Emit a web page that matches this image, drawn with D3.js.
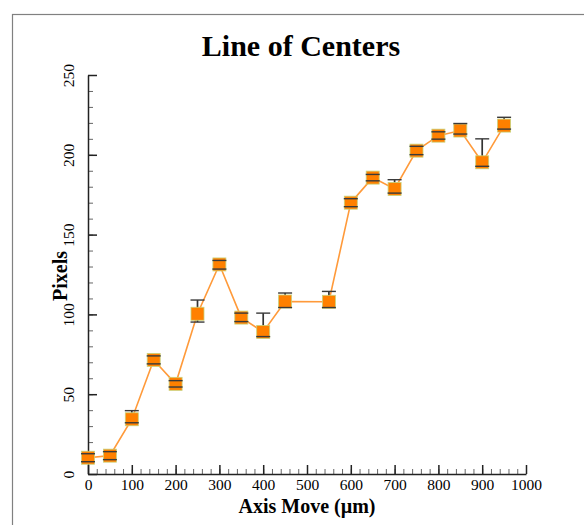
<!DOCTYPE html>
<html>
<head>
<meta charset="utf-8">
<script src="https://cdn.jsdelivr.net/npm/d3@7"></script>
<style>
  body { margin: 0; background: white; }
  svg { display: block; }
</style>
</head>
<body>
<main></main>
<script>
// values
const axisMove = [0, 50, 100, 150, 200, 250, 300, 350, 400, 450, 550, 600, 650, 700, 750, 800, 850, 900, 950]
const pixels = [10.2, 11.5, 34.3, 71.5, 56.5, 100.4, 131.3, 98, 89, 108.1, 107.9, 170, 185.7, 178.6, 202.6, 212, 215.2, 195.3, 218.3]
const errUp = [2.5, 2.5, 5.4, 2.5, 2, 8.6, 2.5, 2.8, 11.8, 5.3, 6.5, 2.5, 2, 5.8, 2.7, 2.4, 4.4, 14.7, 5.2]
const errDown = [2.5, 2.5, 2.2, 2.5, 2, 5.2, 2.9, 2.5, 2.9, 3.8, 3.6, 2.5, 2, 2.6, 2.5, 2.2, 2.2, 2.5, 2.2]
const xTicks = [0, 100, 200, 300, 400, 500, 600, 700, 800, 900, 1000]
const yTicks = [0, 50, 100, 150, 200, 250]

const svgWidth = 584
const svgHeight = 525

const plotLeft = 88, plotRight = 526, plotTop = 75, plotBottom = 474

let svg = d3.select("main")
    .append("svg")
    .attr("width", svgWidth)
    .attr("height", svgHeight)

/* outer frame */
svg.append("rect")
    .attr("x", 12.5)
    .attr("y", 14.5)
    .attr("width", 600)
    .attr("height", 600)
    .attr("fill", "none")
    .attr("stroke", "#808080")
    .attr("stroke-width", 1.2)

/* scales */
let xScale = d3.scaleLinear().domain([0, 1000]).range([plotLeft, plotRight])
let yScale = d3.scaleLinear().domain([0, 250]).range([plotBottom, plotTop])

/* title and labels */
svg.append("text")
    .attr("x", 301)
    .attr("y", 56)
    .attr("text-anchor", "middle")
    .style("font-family", "'Liberation Serif', serif")
    .style("font-weight", "bold")
    .style("font-size", "30px")
    .text("Line of Centers")

svg.append("text")
    .attr("transform", "translate(67, 276) rotate(-90)")
    .attr("text-anchor", "middle")
    .style("font-family", "'Liberation Serif', serif")
    .style("font-weight", "bold")
    .style("font-size", "20px")
    .text("Pixels")

svg.append("text")
    .attr("x", 307)
    .attr("y", 513)
    .attr("text-anchor", "middle")
    .style("font-family", "'Liberation Serif', serif")
    .style("font-weight", "bold")
    .style("font-size", "20px")
    .text("Axis Move (µm)")

/* minor ticks */
let xMinor = d3.axisBottom(xScale)
    .tickValues(d3.range(0, 1001, 20))
    .tickSizeInner(-5)
    .tickSizeOuter(0)
    .tickFormat("")

svg.append("g")
    .attr("transform", `translate(0, ${plotBottom})`)
    .call(xMinor)
    .call(g => g.select("path").remove())
    .call(g => g.selectAll("line").attr("stroke", "#666"))

let yMinor = d3.axisLeft(yScale)
    .tickValues(d3.range(0, 251, 10))
    .tickSizeInner(-5)
    .tickSizeOuter(0)
    .tickFormat("")

svg.append("g")
    .attr("transform", `translate(${plotLeft}, 0)`)
    .call(yMinor)
    .call(g => g.select("path").remove())
    .call(g => g.selectAll("line").attr("stroke", "#666"))

/* major axes */
let bottomAxis = d3.axisBottom(xScale)
    .tickValues(xTicks)
    .tickFormat(d3.format("d"))
    .tickSizeInner(-9)
    .tickSizeOuter(0)

let xAxis = svg.append("g")
    .attr("transform", `translate(0, ${plotBottom})`)
    .call(bottomAxis)

xAxis.select("path").attr("stroke", "#222").attr("stroke-width", 1.5)
xAxis.selectAll("line").attr("stroke", "#222").attr("stroke-width", 1.5)
xAxis.selectAll("text")
    .attr("y", 16)
    .attr("dy", 0)
    .attr("fill", "black")
    .style("font-family", "'Liberation Serif', serif")
    .style("font-size", "15.5px")

let leftAxis = d3.axisLeft(yScale)
    .tickValues(yTicks)
    .tickSizeInner(-9)
    .tickSizeOuter(0)

let yAxis = svg.append("g")
    .attr("transform", `translate(${plotLeft}, 0)`)
    .call(leftAxis)

yAxis.select("path").attr("stroke", "#222").attr("stroke-width", 1.5)
yAxis.selectAll("line").attr("stroke", "#222").attr("stroke-width", 1.5)
yAxis.selectAll("text")
    .attr("x", null)
    .attr("dy", null)
    .attr("transform", "translate(-14, 0) rotate(-90)")
    .attr("text-anchor", "middle")
    .attr("fill", "black")
    .style("font-family", "'Liberation Serif', serif")
    .style("font-size", "15.5px")

/* data */
let points = axisMove.map((d, i) => ({
    x: d, y: pixels[i], hi: pixels[i] + errUp[i], lo: pixels[i] - errDown[i]
}))

let line = d3.line()
    .x(d => xScale(d.x))
    .y(d => yScale(d.y))

svg.append("path")
    .datum(points)
    .attr("d", line)
    .attr("fill", "none")
    .attr("stroke", "#FF9A3A")
    .attr("stroke-width", 1.6)

svg.append("g")
    .attr("stroke", "#333")
    .attr("stroke-width", 1.7)
    .selectAll("line")
    .data(points)
    .enter()
    .append("line")
    .attr("x1", d => xScale(d.x))
    .attr("x2", d => xScale(d.x))
    .attr("y1", d => yScale(d.hi))
    .attr("y2", d => yScale(d.lo))

const size = 13
svg.append("g")
    .selectAll("rect")
    .data(points)
    .enter()
    .append("rect")
    .attr("x", d => xScale(d.x) - size / 2)
    .attr("y", d => yScale(d.y) - size / 2)
    .attr("width", size)
    .attr("height", size)
    .attr("fill", "#FF8000")
    .attr("stroke", "#C9D27A")
    .attr("stroke-width", 0.8)

/* caps drawn over the markers */
let caps = svg.append("g")
    .attr("stroke", "#3a3a3a")
    .attr("stroke-width", 1.4)

caps.selectAll(".capHi")
    .data(points)
    .enter()
    .append("line")
    .attr("x1", d => xScale(d.x) - 7)
    .attr("x2", d => xScale(d.x) + 7)
    .attr("y1", d => yScale(d.hi))
    .attr("y2", d => yScale(d.hi))

caps.selectAll(".capLo")
    .data(points)
    .enter()
    .append("line")
    .attr("x1", d => xScale(d.x) - 7)
    .attr("x2", d => xScale(d.x) + 7)
    .attr("y1", d => yScale(d.lo))
    .attr("y2", d => yScale(d.lo))
</script>
</body>
</html>
